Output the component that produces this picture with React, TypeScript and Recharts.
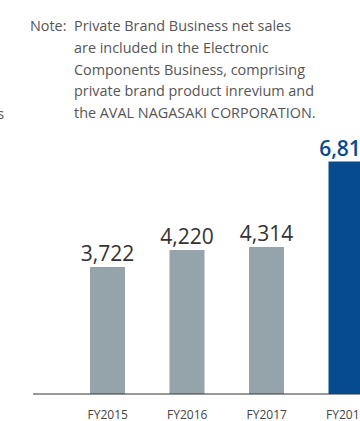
import { Bar, BarChart, Cell, LabelList, XAxis, YAxis } from "recharts";

const years = ["FY2015", "FY2016", "FY2017", "FY2018"];
const netSales = [3722, 4220, 4314, 6815];
const noteLines = [
  "Private Brand Business net sales",
  "are included in the Electronic",
  "Components Business, comprising",
  "private brand product inrevium and",
  "the AVAL NAGASAKI CORPORATION.",
];

const GRAY = "#95a3aa";
const BLUE = "#064a8f";
const FONT = "'Open Sans', 'Noto Sans', sans-serif";

const data = years.map((year, i) => ({ year, sales: netSales[i] }));

function ValueLabel(props: any) {
  const { x, y, width, value, index } = props;
  const last = index === data.length - 1;
  return (
    <text
      x={x + width / 2}
      y={y - 6}
      textAnchor="middle"
      fontSize={21}
      fontFamily={FONT}
      fontWeight={last ? 600 : 400}
      fill={last ? BLUE : "#333"}
    >
      {value.toLocaleString("en-US")}
    </text>
  );
}

const noteStyle = {
  position: "absolute" as const,
  top: 15,
  fontSize: 14.4,
  lineHeight: "21.8px",
  color: "#555",
  whiteSpace: "nowrap" as const,
};

export default function App() {
  return (
    <div
      style={{
        position: "fixed",
        left: 0,
        top: 0,
        width: 360,
        height: 421,
        overflow: "hidden",
        background: "#fff",
        fontFamily: FONT,
      }}
    >
      <BarChart
        width={400}
        height={421}
        data={data}
        margin={{ top: 53, right: 0, left: 33, bottom: 0 }}
      >
        <YAxis hide domain={[0, 10000]} />
        <XAxis
          dataKey="year"
          height={27}
          padding={{ left: 35, right: 14 }}
          tickLine={false}
          tickMargin={10}
          axisLine={{ stroke: "#333", strokeWidth: 1 }}
          tick={{ fill: "#444", fontSize: 12, fontFamily: FONT }}
          interval={0}
        />
        <Bar dataKey="sales" barSize={35} isAnimationActive={false}>
          {data.map((d, i) => (
            <Cell key={d.year} fill={i === data.length - 1 ? BLUE : GRAY} />
          ))}
          <LabelList dataKey="sales" content={ValueLabel} />
        </Bar>
      </BarChart>

      {/* note block, top-right */}
      <div style={{ ...noteStyle, left: 30 }}>Note:</div>
      <div style={{ ...noteStyle, left: 74 }}>
        {noteLines.map((line) => (
          <div key={line}>{line}</div>
        ))}
      </div>

      {/* cropped caption on the left edge */}
      <div style={{ ...noteStyle, top: 103, right: 356 }}>Private Brand Business</div>
    </div>
  );
}
